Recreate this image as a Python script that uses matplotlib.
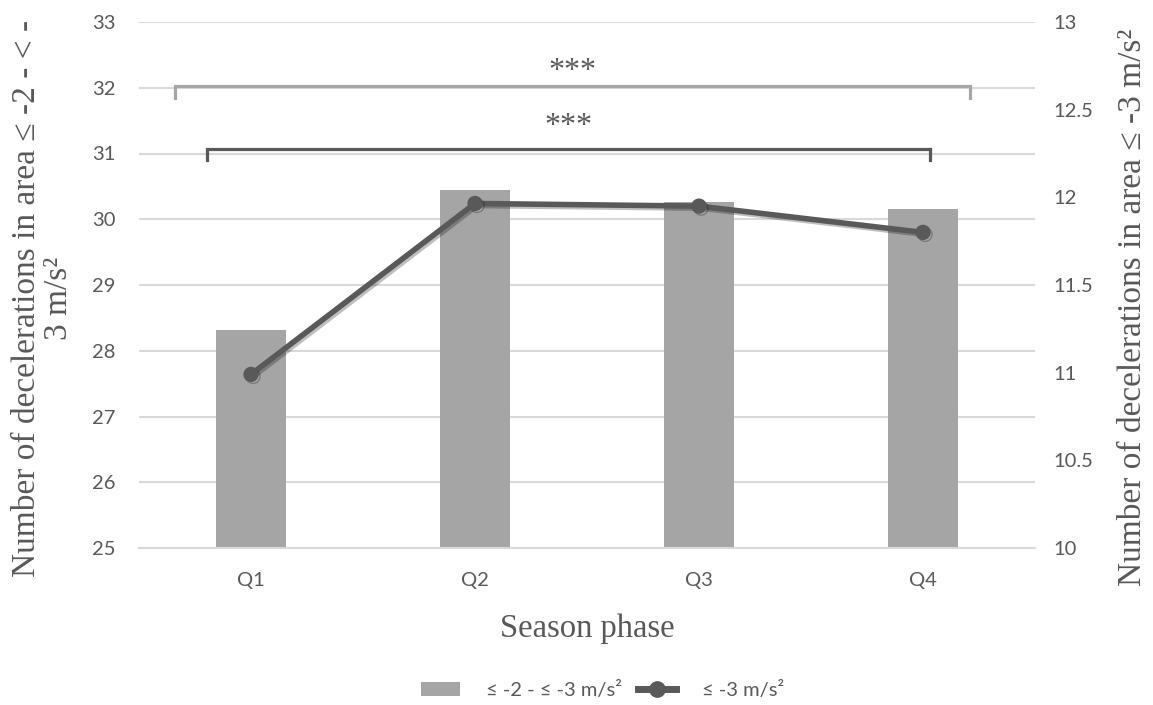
import matplotlib
matplotlib.use("Agg")
import matplotlib.pyplot as plt
import matplotlib.patheffects as pe
from matplotlib.lines import Line2D
from matplotlib.patches import Patch

categories = ["Q1", "Q2", "Q3", "Q4"]
bars_vals = [28.32, 30.44, 30.26, 30.15]
line_vals = [10.99, 11.965, 11.95, 11.80]
left_ticks = [25, 26, 27, 28, 29, 30, 31, 32, 33]
right_ticks = [10, 10.5, 11, 11.5, 12, 12.5, 13]
right_tick_labels = ["10", "10.5", "11", "11.5", "12", "12.5", "13"]
bar_label = "≤ -2 - ≤ -3 m/s²"
line_label = "≤ -3 m/s²"
sig_light = (-0.34, 3.21, 32.03, 31.84, 32.25)
sig_dark = (-0.198, 3.03, 31.07, 30.9, 31.41)

W, H = 1153, 705
fig = plt.figure(figsize=(W / 100, H / 100), dpi=100)
ax = fig.add_axes([139 / W, 1 - 548 / H, (1035 - 139) / W, (548 - 22) / H])
ax2 = ax.twinx()

tick_font = "Lato"
serif = "Liberation Serif"
tc = "#595959"
fs_tick = 14.5

x = list(range(len(categories)))
ax.bar(x, [v - 25 for v in bars_vals], bottom=25, width=0.31, color="#a5a5a5",
       zorder=2)
ax.set_xlim(-0.5, 3.5)
ax.set_ylim(25, 33)
ax.set_yticks(left_ticks)
ax.set_yticklabels([str(t) for t in left_ticks], fontfamily=tick_font, fontsize=fs_tick, color=tc)
ax.set_xticks(x)
ax.set_xticklabels(categories, fontfamily=tick_font, fontsize=fs_tick, color=tc)
ax.tick_params(axis="both", length=0)
ax.tick_params(axis="y", pad=17)
ax.tick_params(axis="x", pad=17)
ax.grid(axis="y", color="#d9d9d9", linewidth=1.5, zorder=0)
ax.set_axisbelow(True)
for s in ax.spines.values():
    s.set_visible(False)
for s in ax2.spines.values():
    s.set_visible(False)
ax.spines["bottom"].set_visible(True)
ax.spines["bottom"].set_color("#d9d9d9")
ax.spines["bottom"].set_linewidth(1.5)

ax2.plot(x, line_vals, color="#595959", linewidth=4, marker="o", markersize=10,
         zorder=3,
         path_effects=[pe.SimpleLineShadow(offset=(1.5, -1.5), alpha=0.25, shadow_color="black"),
                       pe.Normal()])
ax2.set_ylim(10, 13)
ax2.set_yticks(right_ticks)
ax2.set_yticklabels(right_tick_labels, fontfamily=tick_font, fontsize=fs_tick, color=tc)
ax2.tick_params(axis="y", length=0, pad=13)

# significance brackets
for (x0, x1, ytop, ybot, ystar), col in [(sig_light, "#a6a6a6"), (sig_dark, "#595959")]:
    ax.plot([x0, x0, x1, x1], [ybot, ytop, ytop, ybot], color=col, linewidth=2.3,
            solid_joinstyle="miter", zorder=4, clip_on=False)
    ax.text((x0 + x1) / 2, ystar, "***", ha="center", va="center", fontfamily=serif,
            fontsize=23, color=tc)

ax.set_xlabel("Season phase", fontfamily=serif, fontsize=23.5, color=tc, labelpad=18)
fig.text(43 / W, 1 - 298 / H, "Number of decelerations in area ≤ -2 - < -\n3 m/s²",
         rotation=90, ha="center", va="center", fontfamily=serif, fontsize=24,
         color=tc, linespacing=1.05, multialignment="center")
fig.text(1133 / W, 1 - 307 / H, "Number of decelerations in area ≤ -3 m/s²",
         rotation=90, ha="center", va="center", fontfamily=serif, fontsize=24, color=tc)

handles = [Patch(facecolor="#a5a5a5", edgecolor="none"),
           Line2D([0], [0], color="#595959", linewidth=5, marker="o", markersize=11)]
fig.legend(handles, [bar_label, line_label], loc="center", bbox_to_anchor=(603 / W, 1 - 690 / H),
           ncol=2, frameon=False, prop={"family": tick_font, "size": fs_tick},
           handlelength=1.9, handletextpad=1.3, columnspacing=0.8, labelcolor=tc)

fig.savefig("out.png", dpi=100, facecolor="white")
